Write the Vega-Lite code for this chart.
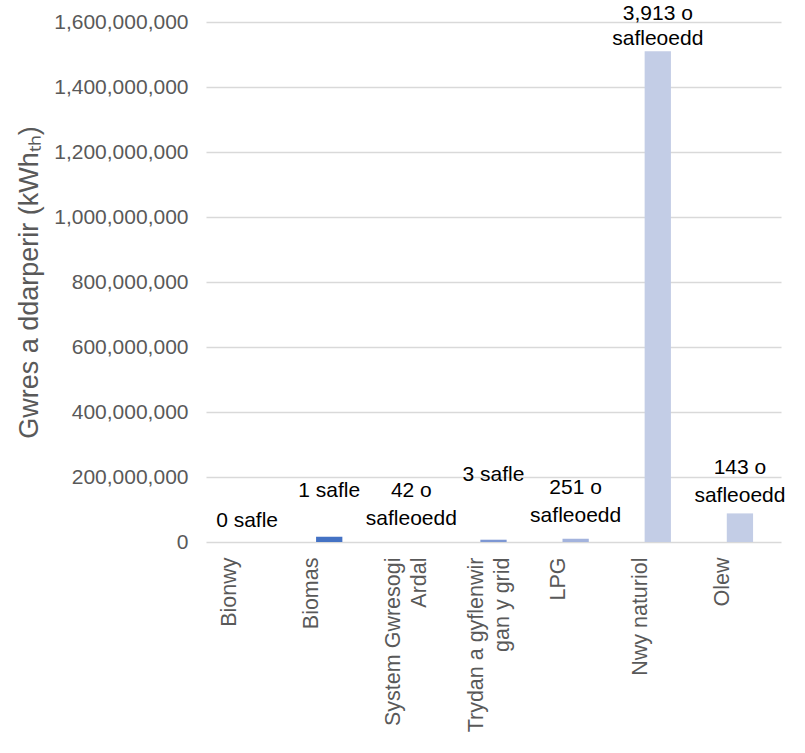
{
  "$schema": "https://vega.github.io/schema/vega-lite/v6.json",
  "width": 575,
  "height": 520,
  "autosize": "none",
  "padding": {"left": 206, "top": 22, "right": 24, "bottom": 211},
  "background": "white",
  "config": {"view": {"stroke": null}, "font": "Liberation Sans"},
  "data": {
    "values": [
      {"category": "Bionwy", "value": 0, "label": "0 safle"},
      {"category": "Biomas", "value": 16000000, "label": "1 safle"},
      {"category": "System Gwresogi Ardal", "value": 0, "label": "42 o\nsafleoedd"},
      {"category": "Trydan a gyflenwir gan y grid", "value": 7000000, "label": "3 safle"},
      {"category": "LPG", "value": 10000000, "label": "251 o\nsafleoedd"},
      {"category": "Nwy naturiol", "value": 1510000000, "label": "3,913 o\nsafleoedd"},
      {"category": "Olew", "value": 88000000, "label": "143 o\nsafleoedd"}
    ]
  },
  "encoding": {
    "x": {
      "field": "category",
      "type": "nominal",
      "sort": null,
      "scale": {"paddingInner": 0, "paddingOuter": 0},
      "axis": {
        "title": null,
        "labelAngle": -90,
        "labelFontSize": 21.5,
        "labelColor": "#595959",
        "labelPadding": 15,
        "labelOffset": -17,
        "labelLimit": 0,
        "labelLineHeight": 26,
        "domain": false,
        "ticks": false,
        "grid": false,
        "labelExpr": "datum.value == 'System Gwresogi Ardal' ? ['System Gwresogi', 'Ardal'] : datum.value == 'Trydan a gyflenwir gan y grid' ? ['Trydan a gyflenwir', 'gan y grid'] : datum.value"
      }
    },
    "y": {
      "field": "value",
      "type": "quantitative",
      "scale": {"domain": [0, 1600000000], "nice": false, "zero": true},
      "axis": {
        "values": [0, 200000000, 400000000, 600000000, 800000000, 1000000000, 1200000000, 1400000000, 1600000000],
        "format": ",d",
        "grid": true,
        "gridColor": "#d9d9d9",
        "gridWidth": 1.5,
        "domain": false,
        "ticks": false,
        "labelFontSize": 21,
        "labelColor": "#595959",
        "labelPadding": 18,
        "labelFlush": false,
        "title": "Gwres a ddarperir (kWhₜₕ)",
        "titleFontSize": 27,
        "titleFontWeight": "normal",
        "titleColor": "#595959",
        "titlePadding": 10
      }
    }
  },
  "layer": [
    {
      "mark": {"type": "bar", "width": {"band": 0.32}},
      "encoding": {
        "color": {
          "field": "category",
          "type": "nominal",
          "legend": null,
          "scale": {
            "domain": ["Bionwy", "Biomas", "System Gwresogi Ardal", "Trydan a gyflenwir gan y grid", "LPG", "Nwy naturiol", "Olew"],
            "range": ["#2F528F", "#4472C4", "#5B7FCB", "#7D97D3", "#A3B3DD", "#C3CDE6", "#C3CDE6"]
          }
        }
      }
    },
    {
      "transform": [{"filter": "datum.category == 'Bionwy'"}],
      "mark": {"type": "text", "baseline": "bottom", "dy": -11, "fontSize": 21, "color": "#000000"},
      "encoding": {"text": {"field": "label"}}
    },
    {
      "transform": [{"filter": "datum.category == 'System Gwresogi Ardal' || datum.category == 'LPG'"}],
      "mark": {"type": "text", "baseline": "bottom", "dy": -41, "fontSize": 21, "lineHeight": 28, "lineBreak": "\n", "color": "#000000"},
      "encoding": {"text": {"field": "label"}}
    },
    {
      "transform": [{"filter": "datum.category == 'Olew'"}],
      "mark": {"type": "text", "baseline": "bottom", "dy": -35, "fontSize": 21, "lineHeight": 28, "lineBreak": "\n", "color": "#000000"},
      "encoding": {"text": {"field": "label"}}
    },
    {
      "transform": [{"filter": "datum.category == 'Nwy naturiol'"}],
      "mark": {"type": "text", "baseline": "bottom", "dy": -27, "fontSize": 21, "lineHeight": 25, "lineBreak": "\n", "color": "#000000"},
      "encoding": {"text": {"field": "label"}}
    },
    {
      "transform": [{"filter": "datum.category == 'Biomas'"}],
      "mark": {"type": "text", "baseline": "bottom", "dy": -36, "fontSize": 21, "color": "#000000"},
      "encoding": {"text": {"field": "label"}}
    },
    {
      "transform": [{"filter": "datum.category == 'Trydan a gyflenwir gan y grid'"}],
      "mark": {"type": "text", "baseline": "bottom", "dy": -55, "fontSize": 21, "color": "#000000"},
      "encoding": {"text": {"field": "label"}}
    }
  ]
}
